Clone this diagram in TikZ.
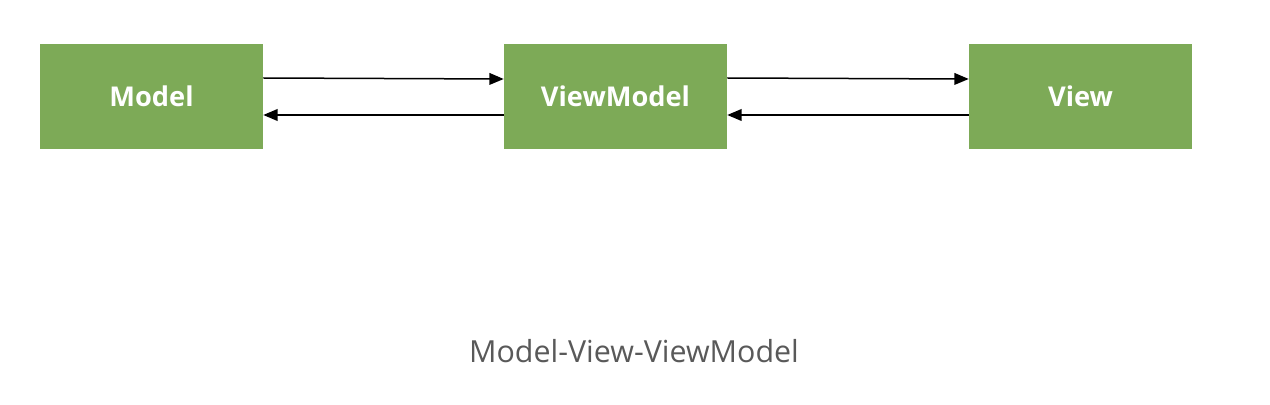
\documentclass[tikz,border=0pt]{standalone}
\usepackage{fontspec}
\setmainfont{Open Sans}
\usepackage{tikz}
\usetikzlibrary{arrows}
\definecolor{boxgreen}{RGB}{125,170,87}
\definecolor{capgray}{RGB}{89,89,89}
\tikzset{mvvmbox/.style={fill=boxgreen,draw=none,minimum width=4.46cm,minimum height=2.1cm,text=white,font=\fontsize{15.5}{20}\selectfont\bfseries}}

\begin{document}
\begin{tikzpicture}
\useasboundingbox (0,0) rectangle (25.4,8.08);
\node[mvvmbox] (model) at (3.03,6.15) {Model};
\node[mvvmbox] (viewmodel) at (12.31,6.15) {ViewModel};
\node[mvvmbox] (view) at (21.61,6.15) {View};
\draw[-triangle 45,line width=0.3mm] ([yshift=0.37cm]model.east) -- ([yshift=0.35cm]viewmodel.west);
\draw[-triangle 45,line width=0.3mm] ([yshift=-0.37cm]viewmodel.west) -- ([yshift=-0.37cm]model.east);
\draw[-triangle 45,line width=0.3mm] ([yshift=0.37cm]viewmodel.east) -- ([yshift=0.35cm]view.west);
\draw[-triangle 45,line width=0.3mm] ([yshift=-0.37cm]view.west) -- ([yshift=-0.37cm]viewmodel.east);
\node[text=capgray,font=\fontsize{17.3}{20}\selectfont] (caption) at (12.68,1.06) {Model-View-ViewModel};
\end{tikzpicture}
\end{document}
